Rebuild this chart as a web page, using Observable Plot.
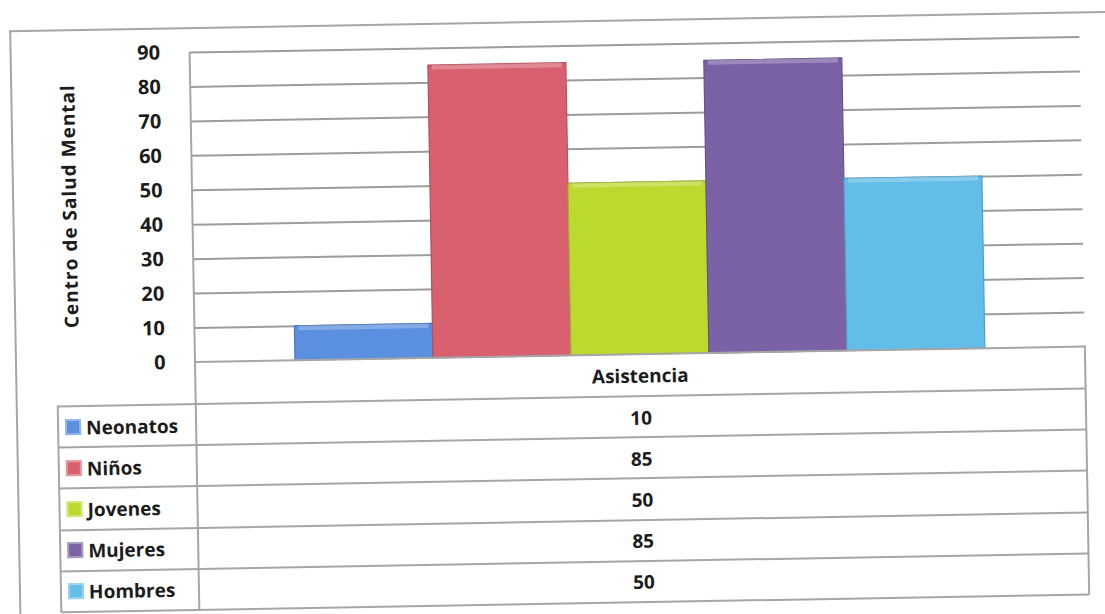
<!DOCTYPE html>
<html><head><meta charset="utf-8">
<script src="https://cdn.jsdelivr.net/npm/d3@7"></script>
<script src="https://cdn.jsdelivr.net/npm/@observablehq/plot@0.6"></script>
<style>
html,body{margin:0;padding:0;background:#fff;}
#page{position:relative;width:1105px;height:614px;overflow:hidden;background:#fff;font-family:"Open Sans",sans-serif;font-weight:700;color:#1c1c1c;}
#rot{position:absolute;left:0;top:0;width:1105px;height:614px;transform:rotate(-1deg);transform-origin:195px 362px;}
#chart{position:absolute;left:0;top:0;}
.ln{position:absolute;background:#a6a6a6;}
.txt{position:absolute;white-space:nowrap;font-size:19px;line-height:1;}
.sw{position:absolute;width:16px;height:16px;box-sizing:border-box;border:2px solid rgba(255,255,255,0.35);}
#ylab{position:absolute;left:72px;top:204px;transform:translate(-50%,-50%) rotate(-90deg);font-size:19px;letter-spacing:1px;white-space:nowrap;}
</style>
</head><body>
<div id="page"><div id="rot">
  <div class="ln" style="left:15px;top:27px;width:1100px;height:2px;"></div>
  <div class="ln" style="left:15px;top:27px;width:2px;height:610px;"></div>
  <div id="chart"></div>
  <div id="ylab"></div>
  <div id="table"></div>
</div></div>
<script>
const categories = ["Neonatos", "Niños", "Jovenes", "Mujeres", "Hombres"];
const values = [10, 85, 50, 85, 50];
const colors = ["#5b8fe0", "#d9606f", "#bcd92f", "#7b62a6", "#62bde9"];
const yTicks = [0, 10, 20, 30, 40, 50, 60, 70, 80, 90];
const seriesName = "Asistencia";
const yAxisLabel = "Centro de Salud Mental";

const data = categories.map((c, i) => ({cat: c, value: values[i], color: colors[i],
  edge: d3.color(colors[i]).darker(0.5).formatHex()}));

const L = 195, R = 1085, T = 52, B = 362, W = 1105;
const chart = Plot.plot({
  width: W, height: B + 3,
  marginLeft: L, marginRight: W - R, marginTop: T, marginBottom: 3,
  x: {domain: categories, paddingInner: 0, paddingOuter: 0.71, axis: null},
  y: {domain: [0, 90]},
  style: {background: "transparent", fontFamily: "Open Sans", overflow: "visible", color: "#1c1c1c"},
  marks: [
    Plot.gridY(yTicks.filter(t => t > 0), {stroke: "#9c9c9c", strokeOpacity: 1, strokeWidth: 2}),
    Plot.barY(data, {x: "cat", y: "value", fill: "color", stroke: "edge", strokeWidth: 1.2}),
    Plot.barY(data, {x: "cat", y1: d => d.value - 1.3, y2: "value", fill: "white", fillOpacity: 0.25, insetLeft: 4, insetRight: 4}),
    Plot.axisY(yTicks, {tickSize: 0, tickPadding: 30, fontSize: 20, fontWeight: "bold", fill: "#1c1c1c", label: null})
  ]
});
document.getElementById("chart").appendChild(chart);
document.getElementById("ylab").textContent = yAxisLabel;

// data table beneath the plot
const tbl = document.getElementById("table");
const rowH = 41.2, headTop = B, headBot = 404, colL = 57, mid = (L + R) / 2;
function line(x, y, w, h) { const d = document.createElement("div"); d.className = "ln";
  d.style.left = x + "px"; d.style.top = y + "px"; d.style.width = w + "px"; d.style.height = h + "px"; tbl.appendChild(d); }
function text(s, x, y, anchor) { const d = document.createElement("div"); d.className = "txt"; d.textContent = s;
  d.style.left = x + "px"; d.style.top = y + "px";
  d.style.transform = anchor === "middle" ? "translate(-50%,-50%)" : "translate(0,-50%)"; tbl.appendChild(d); }
const bottom = headBot + rowH * categories.length;
line(L - 1, T, 2, bottom - T + 1);          // left edge of plot area / table
line(L, headTop - 1, R - L, 2);             // baseline / header top
line(R - 1, headTop - 1, 2, bottom - headTop + 1);
line(colL, headBot - 1, R - colL, 2);
line(colL - 1, headBot - 1, 2, bottom - headBot + 1);
text(seriesName, mid, (headTop + headBot) / 2 + 1, "middle");
categories.forEach((c, i) => {
  const y0 = headBot + rowH * i, y1 = y0 + rowH;
  line(colL, y1 - 1, R - colL, 2);
  const sw = document.createElement("div"); sw.className = "sw";
  sw.style.left = "64px"; sw.style.top = ((y0 + y1) / 2 - 8) + "px"; sw.style.background = colors[i];
  tbl.appendChild(sw);
  text(c, 85, (y0 + y1) / 2 + 1, "start");
  text(String(values[i]), mid, (y0 + y1) / 2 + 1, "middle");
});
</script>
</body></html>
